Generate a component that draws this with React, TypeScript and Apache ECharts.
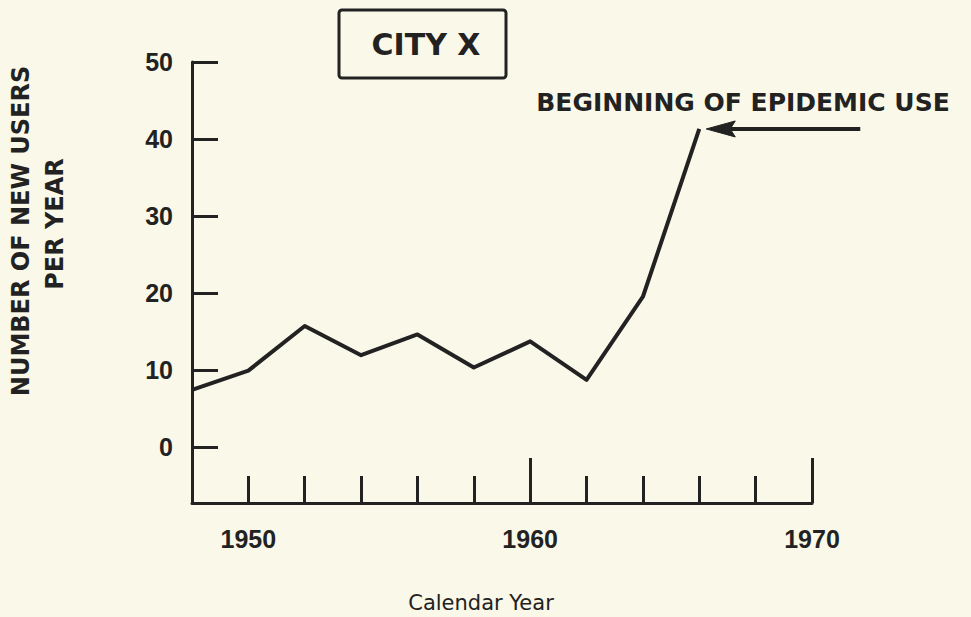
import React, { useEffect, useRef } from 'react';
import * as echarts from 'echarts';

// ---- data ----
const years = [1948, 1950, 1952, 1954, 1956, 1958, 1960, 1962, 1964, 1966];
const newUsers = [7.4, 9.9, 15.7, 11.9, 14.6, 10.3, 13.7, 8.7, 19.5, 41.3];
const yTickValues = [0, 10, 20, 30, 40, 50];
const xLabelYears = [1950, 1960, 1970];
const xMajorTickYears = [1960, 1970];
const epidemicPoint = [1966, 41.3];
const boxTitle = 'CITY X';
const annotationText = 'BEGINNING OF EPIDEMIC USE';
const yTitleLine1 = 'NUMBER OF NEW USERS';
const yTitleLine2 = 'PER YEAR';
const xTitle = 'Calendar Year';

const ink = '#222222';
const bg = '#FAF8E8';
const digitFont = '"Liberation Sans", Arial, sans-serif';
const wordFont = '"DejaVu Sans", sans-serif';

export default function App() {
  const ref = useRef<HTMLDivElement>(null);
  useEffect(() => {
    document.body.style.margin = '0';
    document.body.style.background = bg;
    const chart = echarts.init(ref.current!, null, { renderer: 'svg' });
    const axisLineStyle = { color: ink, width: 3 };
    const plain = (v: number) => String(v);
    const option: any = {
      animation: false,
      backgroundColor: bg,
      grid: [
        { left: 192, right: 159, top: 62, bottom: 114, outerBoundsMode: 'none' },
        { left: 192, right: 159, top: 62, bottom: 114, outerBoundsMode: 'none' },
      ],
      xAxis: [
        {
          type: 'value', gridIndex: 0, min: 1948, max: 1970, interval: 2,
          axisLine: { show: true, onZero: false, lineStyle: axisLineStyle },
          axisTick: { show: true, inside: true, length: 27, lineStyle: axisLineStyle },
          axisLabel: {
            customValues: xLabelYears, margin: 23, color: ink, formatter: plain,
            fontSize: 25, fontWeight: 'bold', fontFamily: digitFont,
          },
          splitLine: { show: false },
        },
        {
          type: 'value', gridIndex: 1, min: 1948, max: 1970,
          axisLine: { show: false, onZero: false },
          axisTick: { show: true, customValues: xMajorTickYears, inside: true, length: 45, lineStyle: axisLineStyle },
          axisLabel: { show: false },
          splitLine: { show: false },
        },
      ],
      yAxis: [
        {
          type: 'value', gridIndex: 0, min: -7.3, max: 50,
          axisLine: { show: true, onZero: false, lineStyle: axisLineStyle },
          axisTick: { show: true, customValues: yTickValues, inside: true, length: 26, lineStyle: axisLineStyle },
          axisLabel: {
            customValues: yTickValues, margin: 19, color: ink, formatter: plain,
            fontSize: 25, fontWeight: 'bold', fontFamily: digitFont,
          },
          splitLine: { show: false },
        },
        { type: 'value', gridIndex: 1, min: -7.3, max: 50, show: false },
      ],
      series: [
        {
          type: 'line', xAxisIndex: 0, yAxisIndex: 0,
          data: years.map((y, i) => [y, newUsers[i]]),
          symbol: 'none', clip: false,
          lineStyle: { color: ink, width: 4, join: 'round' },
        },
      ],
    };
    chart.setOption(option);

    const tip = chart.convertToPixel({ gridIndex: 0 }, epidemicPoint) as number[];
    const ax = tip[0] + 7;
    const ay = tip[1];
    chart.setOption({
      graphic: [
        {
          type: 'rect', shape: { x: 339, y: 10, width: 167, height: 68, r: 3 },
          style: { fill: 'none', stroke: ink, lineWidth: 3 },
        },
        {
          type: 'text', x: 426, y: 44,
          style: { text: boxTitle, align: 'center', verticalAlign: 'middle', fill: ink, font: `bold 30px ${wordFont}` },
        },
        {
          type: 'text', x: 743, y: 102,
          style: { text: annotationText, align: 'center', verticalAlign: 'middle', fill: ink, font: `bold 25px ${wordFont}` },
        },
        {
          type: 'line', shape: { x1: ax + 20, y1: ay, x2: ax + 154, y2: ay },
          style: { stroke: ink, lineWidth: 4 },
        },
        {
          type: 'polygon', shape: { points: [[ax, ay], [ax + 29, ay - 8], [ax + 24, ay], [ax + 29, ay + 8]] },
          style: { fill: ink, stroke: ink, lineWidth: 1 },
        },
        {
          type: 'text', x: 21, y: 231, rotation: Math.PI / 2,
          style: { text: yTitleLine1, align: 'center', verticalAlign: 'middle', fill: ink, font: `bold 24px ${wordFont}` },
        },
        {
          type: 'text', x: 55, y: 224, rotation: Math.PI / 2,
          style: { text: yTitleLine2, align: 'center', verticalAlign: 'middle', fill: ink, font: `bold 24px ${wordFont}` },
        },
        {
          type: 'text', x: 481, y: 603,
          style: { text: xTitle, align: 'center', verticalAlign: 'middle', fill: ink, font: `21px ${wordFont}` },
        },
      ],
    });
    return () => chart.dispose();
  }, []);
  return <div ref={ref} style={{ width: 971, height: 617 }} />;
}
